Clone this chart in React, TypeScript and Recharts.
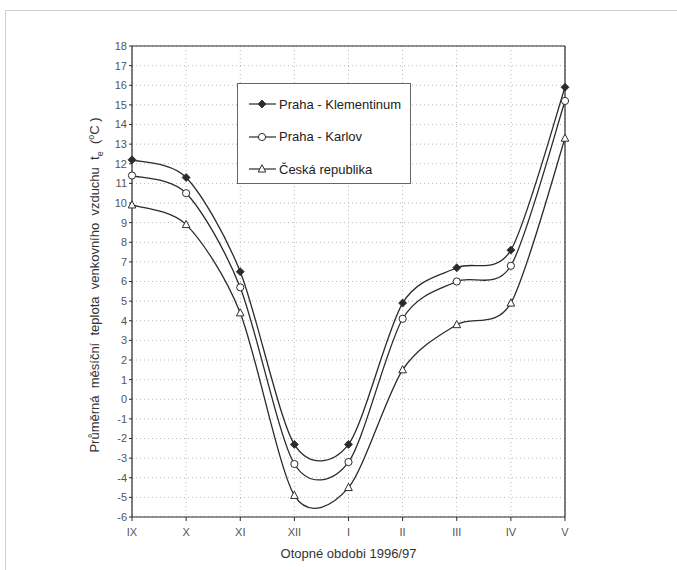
import React from 'react';
import { LineChart, Line, XAxis, YAxis, CartesianGrid, Legend, ReferenceLine } from 'recharts';

const months = ['IX', 'X', 'XI', 'XII', 'I', 'II', 'III', 'IV', 'V'];
const klementinum = [12.2, 11.3, 6.5, -2.3, -2.3, 4.9, 6.7, 7.6, 15.9];
const karlov = [11.4, 10.5, 5.7, -3.3, -3.2, 4.1, 6.0, 6.8, 15.2];
const ceskaRepublika = [9.9, 8.9, 4.4, -4.9, -4.5, 1.5, 3.8, 4.9, 13.3];
const yTicks = [-6, -5, -4, -3, -2, -1, 0, 1, 2, 3, 4, 5, 6, 7, 8, 9, 10, 11, 12, 13, 14, 15, 16, 17, 18];
const legendOrder = ['klementinum', 'karlov', 'cr'];

const data = months.map((m, i) => ({
  month: m,
  klementinum: klementinum[i],
  karlov: karlov[i],
  cr: ceskaRepublika[i],
}));

const INK = '#2b2b2b';
const FONT = 'Arial, "Liberation Sans", sans-serif';

// smoothed line like the old Excel charts (cardinal bezier, slight overshoot)
const K = 0.14;
const smoothCurve: any = (context: any) => {
  let pts: number[][] = [];
  return {
    areaStart() {},
    areaEnd() {},
    lineStart() {
      pts = [];
    },
    point(x: number, y: number) {
      pts.push([+x, +y]);
    },
    lineEnd() {
      const n = pts.length;
      if (!n) return;
      context.moveTo(pts[0][0], pts[0][1]);
      for (let i = 0; i < n - 1; i++) {
        const p0 = pts[Math.max(i - 1, 0)];
        const p1 = pts[i];
        const p2 = pts[i + 1];
        const p3 = pts[Math.min(i + 2, n - 1)];
        context.bezierCurveTo(
          p1[0] + (p2[0] - p0[0]) * K,
          p1[1] + (p2[1] - p0[1]) * K,
          p2[0] - (p3[0] - p1[0]) * K,
          p2[1] - (p3[1] - p1[1]) * K,
          p2[0],
          p2[1]
        );
      }
    },
  };
};

const Diamond = ({ cx, cy }: any) => (
  <path d={`M${cx},${cy - 4}L${cx + 4},${cy}L${cx},${cy + 4}L${cx - 4},${cy}Z`} fill={INK} stroke={INK} strokeWidth={0.8} />
);
const Circle = ({ cx, cy }: any) => <circle cx={cx} cy={cy} r={3.6} fill="#fff" stroke={INK} strokeWidth={1} />;
const Triangle = ({ cx, cy }: any) => (
  <path d={`M${cx},${cy - 4.2}L${cx + 3.8},${cy + 3}L${cx - 3.8},${cy + 3}Z`} fill="#fff" stroke={INK} strokeWidth={1} />
);

const markers: Record<string, any> = { klementinum: Diamond, karlov: Circle, cr: Triangle };

const LegendBox = (props: any) => {
  const items = [...(props.payload || [])].sort(
    (a: any, b: any) => legendOrder.indexOf(a.dataKey) - legendOrder.indexOf(b.dataKey)
  );
  return (
    <div
      style={{
        width: 174,
        height: 101,
        border: '1px solid #666',
        background: '#fff',
        boxSizing: 'border-box',
        paddingTop: 4,
        fontFamily: FONT,
        fontSize: 13,
        color: '#222',
      }}
    >
      {items.map((p: any) => {
        const M = markers[p.dataKey];
        return (
          <div key={p.dataKey} style={{ display: 'flex', alignItems: 'center', height: 32.5 }}>
            <svg width={40} height={12} style={{ marginLeft: 8 }}>
              <line x1={3} y1={6} x2={30} y2={6} stroke={INK} strokeWidth={1.2} />
              <M cx={16} cy={6} />
            </svg>
            <span style={{ marginLeft: -7 }}>{p.value}</span>
          </div>
        );
      })}
    </div>
  );
};

export default function App() {
  return (
    <div style={{ position: 'absolute', left: 0, top: 0, width: 677, height: 570, background: '#fff' }}>
      <div
        style={{
          position: 'absolute',
          left: 5,
          top: 10,
          width: 672,
          height: 560,
          borderLeft: '1px solid #d0d0d0',
          borderTop: '1px solid #d0d0d0',
        }}
      />
      <LineChart
        width={677}
        height={570}
        data={data}
        margin={{ top: 46, right: 112, bottom: 0, left: 0 }}
        style={{ position: 'absolute', left: 0, top: 0 }}
      >
        <CartesianGrid stroke="#b8b8b8" strokeDasharray="1 3" vertical horizontal />
        <XAxis
          dataKey="month"
          scale="point"
          interval={0}
          height={53}
          axisLine={{ stroke: INK, strokeWidth: 1.2 }}
          tickLine={{ stroke: INK }}
          tickSize={4}
          tickMargin={7}
          tick={{ fill: '#555', fontSize: 11, fontFamily: FONT }}
          label={{
            value: 'Otopné  obdobi  1996/97',
            position: 'insideBottom',
            offset: 12,
            fill: '#333',
            fontSize: 13,
            fontFamily: FONT,
            style: { whiteSpace: 'pre' },
          }}
        />
        <YAxis
          type="number"
          domain={[-6, 18]}
          ticks={yTicks}
          interval={0}
          width={132}
          axisLine={{ stroke: INK, strokeWidth: 1.2 }}
          tickLine={{ stroke: INK }}
          tickSize={3}
          tickMargin={2}
          tick={{ fill: '#555', fontSize: 11, fontFamily: FONT }}
          label={{
            content: () => (
              <text
                transform="translate(99,285) rotate(-90)"
                textAnchor="middle"
                fill="#333"
                fontSize={13}
                fontFamily={FONT}
                style={{ whiteSpace: 'pre' }}
              >
                {'Průměrná  měsíční  teplota  venkovního  vzduchu  t'}
                <tspan fontSize={9} dy={4}>e</tspan>
                <tspan dy={-4}>{'  ('}</tspan>
                <tspan fontSize={9} dy={-5}>o</tspan>
                <tspan dy={5}>C )</tspan>
              </text>
            ),
          }}
        />
        <ReferenceLine y={18} stroke={INK} strokeWidth={1.2} />
        <ReferenceLine x="V" stroke={INK} strokeWidth={1.2} />
        <Legend
          verticalAlign="middle"
          align="center"
          layout="vertical"
          content={<LegendBox />}
          wrapperStyle={{ position: 'absolute', left: 237, top: 83, width: 174, height: 101 }}
        />
        <Line
          dataKey="klementinum"
          name="Praha - Klementinum"
          type={smoothCurve}
          stroke={INK}
          strokeWidth={1.3}
          dot={(p: any) => <Diamond key={`k${p.index}`} cx={p.cx} cy={p.cy} />}
          activeDot={false}
          isAnimationActive={false}
        />
        <Line
          dataKey="karlov"
          name="Praha - Karlov"
          type={smoothCurve}
          stroke={INK}
          strokeWidth={1.3}
          dot={(p: any) => <Circle key={`c${p.index}`} cx={p.cx} cy={p.cy} />}
          activeDot={false}
          isAnimationActive={false}
        />
        <Line
          dataKey="cr"
          name="Česká republika"
          type={smoothCurve}
          stroke={INK}
          strokeWidth={1.3}
          dot={(p: any) => <Triangle key={`t${p.index}`} cx={p.cx} cy={p.cy} />}
          activeDot={false}
          isAnimationActive={false}
        />
      </LineChart>
    </div>
  );
}
